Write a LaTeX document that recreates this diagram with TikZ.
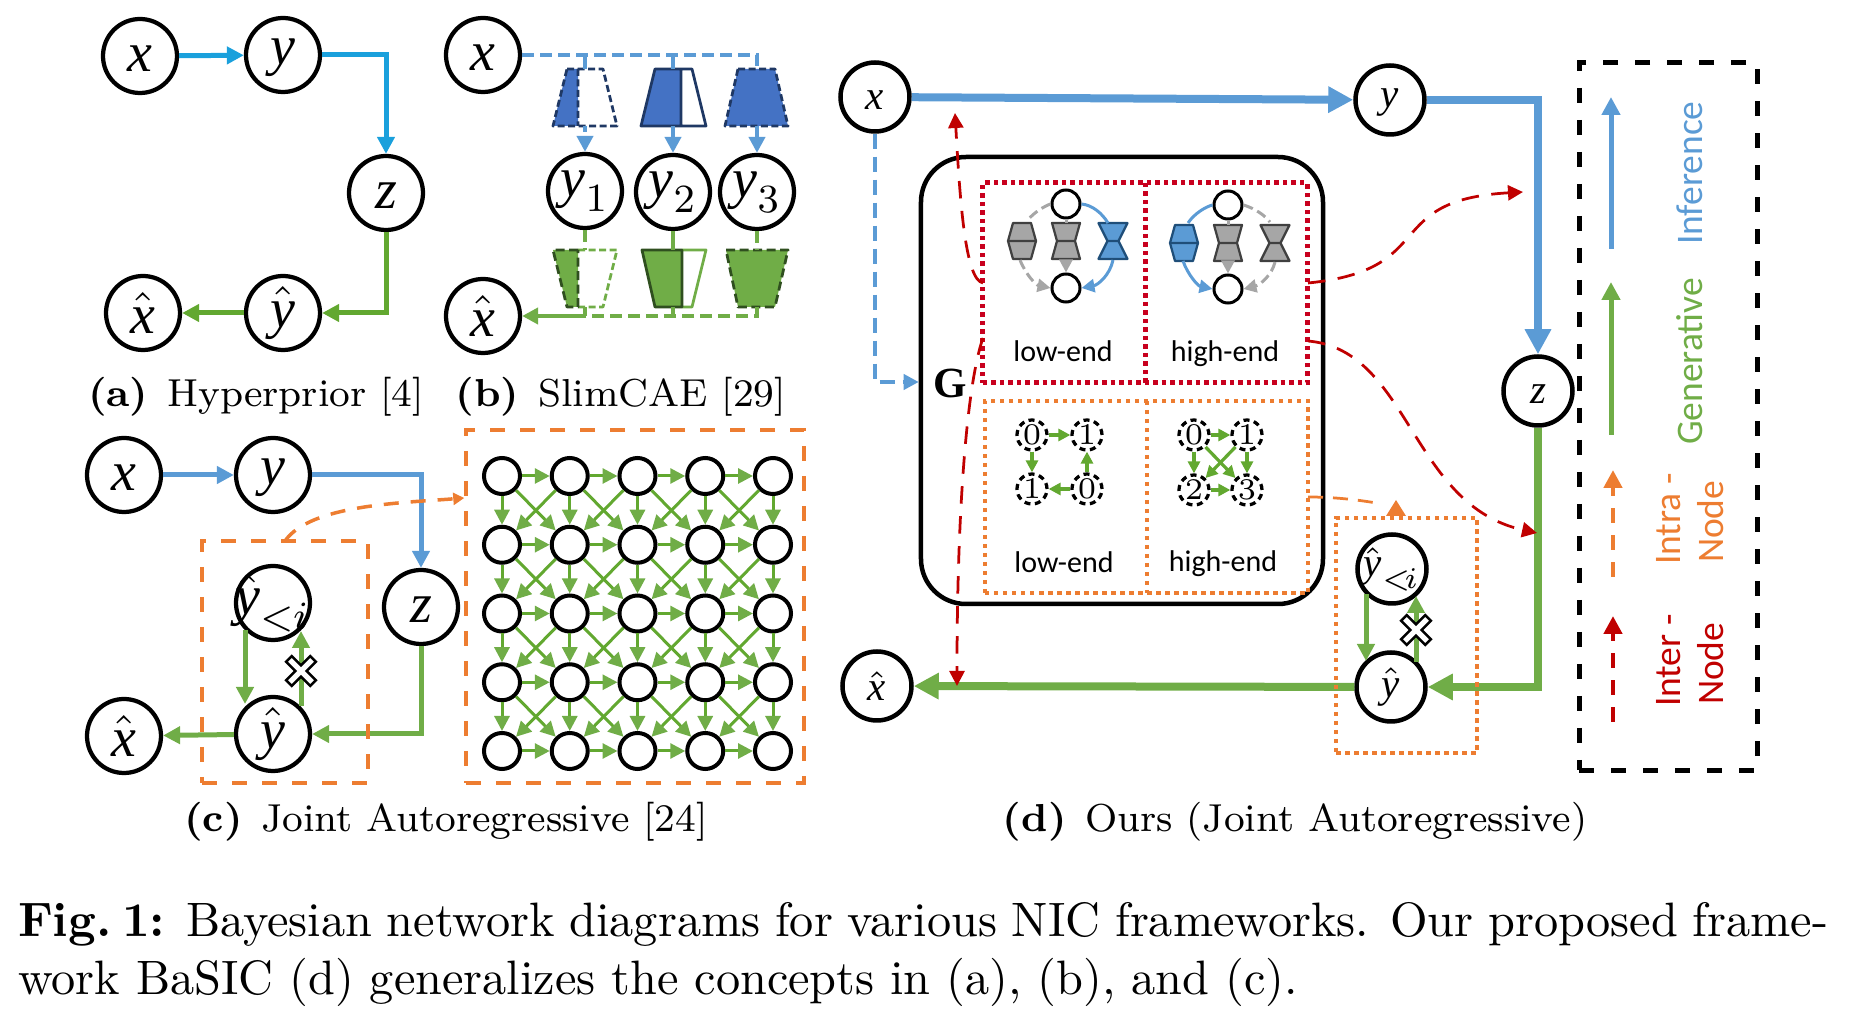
\documentclass[tikz,border=0pt]{standalone}
\usepackage{fontspec}
\usetikzlibrary{arrows.meta,calc}
\newfontfamily\carl{Carlito}
\newfontfamily\lsi{Liberation Serif}
\definecolor{cblue}{HTML}{5B9BD5}
\definecolor{cskye}{HTML}{1AA0DC}
\definecolor{cgreen}{HTML}{70AD47}
\definecolor{cgr}{HTML}{62A830}
\definecolor{corange}{HTML}{ED7D31}
\definecolor{cred}{HTML}{C00000}
\definecolor{cdred}{HTML}{C8001E}
\definecolor{tblue}{HTML}{4472C4}
\definecolor{tbdark}{HTML}{1F3864}
\definecolor{tgdark}{HTML}{2F4F1F}
\definecolor{sgray}{HTML}{A6A6A6}
\definecolor{sdark}{HTML}{404040}
\definecolor{sbd}{HTML}{1F4E79}
\newcommand{\zb}[1]{\makebox[0pt]{\raisebox{-.6pt}[\height][\depth]{$#1$}}}
\newcommand{\zn}[1]{\makebox[0pt]{$#1$}}
\newcommand{\vv}[1]{\mbox{\lsi\itshape #1}}
\newcommand{\xcross}[2]{\draw[line width=.5pt,fill=white,shift={(#1,#2)},rotate=45] (-4,-4)--(-4,-17)--(4,-17)--(4,-4)--(17,-4)--(17,4)--(4,4)--(4,17)--(-4,17)--(-4,4)--(-17,4)--(-17,-4)--cycle;}
\newcommand{\dbl}[6]{\draw[fill=#5,draw=#6,line width=.45pt,line join=round] ({#1-#3},#2)--({#1+#3},#2)--({#1+#4},{#2+18})--({#1+#3},{#2+36})--({#1-#3},{#2+36})--({#1-#4},{#2+18})--cycle ({#1-#4},{#2+18})--({#1+#4},{#2+18});}
\tikzset{
  x=.2pt,y=-.2pt,
  nd/.style={circle,draw=black,line width=.85pt,inner sep=0pt,minimum size=14.8pt,font=\fontsize{11.2}{13}\selectfont},
  ne/.style={nd,minimum size=13.8pt,line width=.9pt,font=\fontsize{8.2}{10}\selectfont},
  ng/.style={circle,draw=black,line width=.8pt,inner sep=0pt,minimum size=7.2pt},
  ns/.style={circle,draw=black,line width=.6pt,inner sep=0pt,minimum size=5.6pt},
  nq/.style={circle,draw=black,line width=.65pt,dash pattern=on 1.2pt off .9pt,inner sep=0pt,minimum size=6pt,font=\fontsize{6}{7}\selectfont},
  tri/.style={-{Triangle[length=#1*.2pt,width=#1*.2pt]}},
  aa/.style={cskye,line width=1pt,tri=17},
  ag/.style={cgr,line width=1pt,tri=17},
  bb/.style={cblue,line width=1pt,tri=17},
  bn/.style={cblue,line width=.8pt,tri=16},
  gg/.style={cgreen,line width=1pt,tri=17},
  db/.style={cblue,line width=.75pt,dash pattern=on 2.4pt off 1.2pt},
  dg/.style={cgreen,line width=.75pt,dash pattern=on 2.4pt off 1.2pt},
  bigb/.style={cblue,line width=1.6pt,tri=25},
  bigg/.style={cgreen,line width=1.6pt,tri=25},
  gridarr/.style={cgr,line width=.6pt,-{Triangle[length=3pt,width=3pt,color=cgreen]}},
  smg/.style={cgr,line width=.65pt,-{Triangle[length=2.4pt,width=2.4pt]}},
  thn/.style={line width=.6pt},
  gdash/.style={sgray,thn,dash pattern=on 2pt off 1pt},
  head/.style={-{Triangle[length=2.6pt,width=2.6pt]}},
  box/.style={draw,inner sep=0pt},
  orbox/.style={box,corange,line width=.7pt,dash pattern=on 3pt off 3pt},
  redbox/.style={box,cdred,line width=1pt,dash pattern=on .9pt off .8pt},
  ordot/.style={box,corange,line width=.85pt,dash pattern=on .9pt off .9pt},
  redarr/.style={cred,line width=.55pt,dash pattern=on 3.5pt off 2.5pt,-{Triangle[length=3pt,width=3pt]}},
  capa/.style={anchor=base,inner sep=0pt,font=\fontsize{7.8}{10}\selectfont},
  capm/.style={anchor=base west,inner sep=0pt,font=\fontsize{9.66}{12}\selectfont},
  lowtxt/.style={anchor=base,inner sep=0pt,font=\carl\fontsize{6}{7}\selectfont},
  leg/.style={anchor=base west,rotate=90,inner sep=0pt,font=\carl\fontsize{7.5}{9}\selectfont},
  trd/.style={line width=.55pt,line join=round},
}
\begin{document}
\begin{tikzpicture}
\useasboundingbox (0,0) rectangle (1858,1012);

% ---------- (a)
\node[nd] (ax) at (140,56) {\zb{\vv{x}}};
\node[nd] (ay) at (283,55) {\zb{\vv{y}}};
\node[nd] (az) at (386,193) {\zb{\vv{z}}};
\node[nd] (axh) at (143,313) {\zn{\hat{\vv{x}}}};
\node[nd] (ayh) at (283,313) {\zn{\hat{\vv{y}}}};
\draw[aa] (ax) -- (ay);
\draw[aa] (ay) -| (az);
\draw[ag] (az) |- (ayh);
\draw[ag] (ayh) -- (axh);
\node[capa] (capA) at (256,407) {\textbf{(a)}\hspace{.48em}Hyperprior [4]};

% ---------- (b)
\node[nd] (bx) at (483,55) {\zb{\vv{x}}};
\node[nd] (by1) at (585,191) {\zn{\vv{y}_1}};
\node[nd] (by2) at (673,192) {\zn{\vv{y}_2}};
\node[nd] (by3) at (757,192) {\zn{\vv{y}_3}};
\node[nd] (bxh) at (483,316) {\zn{\hat{\vv{x}}}};
% blue trapezoids
\fill[tblue] (567,69)--(578,69)--(578,126)--(553,126)--cycle;
\draw[tbdark,trd,dash pattern=on 1.4pt off .7pt] (567,69)--(603,69)--(617,126)--(553,126)--cycle (578,69)--(578,126);
\fill[tblue] (655,69)--(681,69)--(681,126)--(641,126)--cycle;
\draw[tbdark,trd] (655,69)--(692,69)--(706,126)--(641,126)--cycle (681,69)--(681,126);
\draw[tbdark,trd,fill=tblue,dash pattern=on 1.4pt off .7pt] (738,69)--(775,69)--(788,126)--(725,126)--cycle;
% green trapezoids
\fill[cgreen] (553,250)--(578,250)--(578,307)--(567,307)--cycle;
\draw[cgreen,trd,dash pattern=on 1.4pt off .7pt] (578,250)--(617,250)--(603,307)--(578,307);
\draw[tgdark,trd,dash pattern=on 1.8pt off .9pt] (578,250)--(553,250)--(567,307)--(578,307)--cycle;
\fill[cgreen] (642,250)--(682,250)--(682,307)--(655,307)--cycle;
\draw[cgreen,trd] (682,250)--(706,250)--(692,307)--(682,307);
\draw[tgdark,trd] (682,250)--(642,250)--(655,307)--(682,307)--cycle;
\draw[tgdark,trd,fill=cgreen,dash pattern=on 1.8pt off .9pt] (726,250)--(788,250)--(775,307)--(738,307)--cycle;
% blue connectors
\coordinate (bt1) at (585,69); \coordinate (bt2) at (673,69); \coordinate (bt3) at (757,69);
\coordinate (bb1) at (585,126); \coordinate (bb2) at (673,126); \coordinate (bb3) at (757,126);
\coordinate (bj1) at (585,55); \coordinate (bj2) at (673,55); \coordinate (bj3) at (757,55);
\draw[db] (bx.east) -- (bj3) -- (bt3);
\draw[cblue,line width=.75pt] (bj1) -- (bt1) (bj2) -- (bt2);
\draw[bn,dash pattern=on 1.2pt off .8pt] (bb1) -- (by1);
\draw[bn] (bb2) -- (by2);
\draw[bn] (bb3) -- (by3);
% green connectors
\coordinate (gt1) at (585,250); \coordinate (gt2) at (673,250); \coordinate (gt3) at (757,250);
\coordinate (gb1) at (585,307); \coordinate (gb2) at (673,307); \coordinate (gb3) at (757,307);
\coordinate (gj1) at (585,316); \coordinate (gj2) at (673,316); \coordinate (gj3) at (757,316);
\draw[dg] (by1) -- (gt1);
\draw[cgreen,line width=.75pt] (by2) -- (gt2) (gb1) -- (gj1) (gb2) -- (gj2);
\draw[dg] (by3) -- (gt3);
\draw[dg] (gb3) -- (gj3) -- (gj1);
\draw[cgreen,line width=.8pt,tri=16] (gj1) -- (bxh);
\node[capa] (capB) at (621,407) {\textbf{(b)}\hspace{.48em}SlimCAE [29]};

% ---------- (c)
\node[nd] (cx) at (124,475) {\zb{\vv{x}}};
\node[nd] (cy) at (273,475) {\zb{\vv{y}}};
\node[nd] (cz) at (421,607) {\zb{\vv{z}}};
\node[nd] (cxh) at (124,736) {\zn{\hat{\vv{x}}}};
\node[nd] (cyh) at (273,734) {\zn{\hat{\vv{y}}}};
\node[nd] (cyi) at (273,603) {\zn{\hat{\vv{y}}_{<i}}};
\draw[bb] (cx) -- (cy);
\draw[bb] (cy) -| (cz);
\draw[gg] (cz) |- (cyh);
\draw[gg] (cyh) -- (cxh);
\draw[gg] ($(cyi.center)+(-28,27)$) -- ($(cyh.center)+(-28,-30)$);
\draw[gg] ($(cyh.center)+(28,-28)$) -- ($(cyi.center)+(28,28)$);
\xcross{301}{671}
\node[box,orbox,minimum width=33.2pt,minimum height=48.4pt] (cbox1) at (285,662) {};
\node[box,orbox,minimum width=67.6pt,minimum height=70.6pt] (cbox2) at (635,606.5) {};
\coordinate (co1) at (285,541);
\draw[corange,line width=.7pt,dash pattern=on 3pt off 2.4pt,-{Triangle[length=2.2pt,width=2.4pt]}] (co1) .. controls (310,505) and (400,503) .. (cbox2.west |- 0,498);
\foreach \i in {0,...,4} \foreach \j in {0,...,4}
  \node[ng] (g-\i-\j) at ({502+67.75*\i},{476+68.75*\j}) {};
\foreach \j in {0,...,4} \foreach \i/\n in {0/1,1/2,2/3,3/4}
  \draw[gridarr] (g-\i-\j) -- (g-\n-\j);
\foreach \i in {0,...,4} \foreach \j/\n in {0/1,1/2,2/3,3/4}
  \draw[gridarr] (g-\i-\j) -- (g-\i-\n);
\foreach \i/\ni in {0/1,1/2,2/3,3/4} \foreach \j/\n in {0/1,1/2,2/3,3/4} {
  \draw[gridarr] (g-\i-\j) -- (g-\ni-\n);
  \draw[gridarr] (g-\ni-\j) -- (g-\i-\n);
}
\node[capa] (capC) at (446,832) {\textbf{(c)}\hspace{.48em}Joint Autoregressive [24]};

% ---------- (d)
\node[ne] (dx) at (875,97) {\zb{\vv{x}}};
\node[ne] (dy) at (1390,100) {\zb{\vv{y}}};
\node[ne] (dz) at (1538,391) {\zb{\vv{z}}};
\node[ne] (dxh) at (877,686) {\zn{\hat{\vv{x}}}};
\node[ne] (dyh) at (1391,687) {\zn{\hat{\vv{y}}}};
\node[ne] (dyi) at (1392,569) {\zn{\hat{\vv{y}}_{<\!i}}};
\draw[bigb] (dx) -- (dy);
\draw[bigb] (dy) -| (dz);
\draw[bigg] (dz) |- (dyh);
\draw[bigg] (dyh) -- (dxh);
\node[box,draw=black,line width=.9pt,rounded corners=9pt,minimum width=80.4pt,minimum height=89.4pt] (G) at (1122,380.5) {};
\coordinate (dgb) at (875,382);
\draw[cblue,line width=.75pt,dash pattern=on 3pt off 1.6pt,tri=15] (dx) |- (G.west |- dgb);
\node[inner sep=0pt,font=\lsi\bfseries\fontsize{8.6}{10}\selectfont] (Gl) at (950,383) {G};
\node[redbox,minimum width=64.8pt,minimum height=40pt] (rb) at (1145,283) {};
\coordinate (rd1) at (1145,183); \coordinate (rd2) at (1145,383);
\draw[redbox] (rd1) -- (rd2);
\node[ordot,minimum width=64.6pt,minimum height=38.4pt] (ob) at (1146.5,497) {};
\coordinate (od1) at (1147,401); \coordinate (od2) at (1147,593);
\draw[ordot] (od1) -- (od2);
% red panel left
\node[ns] (r1t) at (1066,204) {};
\node[ns] (r1b) at (1066,288) {};
\dbl{1022}{223}{9}{14}{sgray}{sdark}
\dbl{1066}{223}{14}{9}{sgray}{sdark}
\dbl{1113}{223}{14.5}{5.5}{cblue}{sbd}
\coordinate (r1h) at (1027,221); \coordinate (r1hb) at (1020,260);
\coordinate (r1bt) at (1108,223); \coordinate (r1bb) at (1113,260);
\coordinate (r1m) at (1066,223); \coordinate (r1mb) at (1066,260);
\draw[gdash] (r1t.west) .. controls (1045,206) and (1034,212) .. (r1h);
\draw[gdash,head] (r1hb) .. controls (1026,275) and (1036,285) .. (r1b.west);
\draw[sgray,thn] (r1t) -- (r1m);
\draw[sgray,thn,head] (r1mb) -- (r1b);
\draw[cblue,thn] (r1t.east) .. controls (1092,205) and (1102,213) .. (r1bt);
\draw[cblue,thn,head] (r1bb) .. controls (1110,275) and (1098,285) .. (r1b.east);
% red panel right
\node[ns] (r2t) at (1228,205) {};
\node[ns] (r2b) at (1228,289) {};
\dbl{1184}{225}{9}{14}{cblue}{sbd}
\dbl{1228}{225}{14}{9}{sgray}{sdark}
\dbl{1275}{225}{14.5}{5.5}{sgray}{sdark}
\coordinate (r2h) at (1188,223); \coordinate (r2hb) at (1183,261);
\coordinate (r2g) at (1270,222); \coordinate (r2gb) at (1275,262);
\coordinate (r2m) at (1228,225); \coordinate (r2mb) at (1228,261);
\draw[cblue,thn] (r2t.west) .. controls (1205,207) and (1194,214) .. (r2h);
\draw[cblue,thn,head] (r2hb) .. controls (1188,275) and (1198,286) .. (r2b.west);
\draw[sgray,thn] (r2t) -- (r2m);
\draw[sgray,thn,head] (r2mb) -- (r2b);
\draw[gdash] (r2t.east) .. controls (1250,207) and (1262,212) .. (r2g);
\draw[gdash,head] (r2gb) .. controls (1272,275) and (1260,285) .. (r2b.east);
\node[lowtxt] (t1) at (1063,362) {low-end};
\node[lowtxt] (t2) at (1225,362) {high-end};
% orange panel left
\node[nq] (q0) at (1032,435) {0};
\node[nq] (q1) at (1087,435) {1};
\node[nq] (q2) at (1032,489) {1};
\node[nq] (q3) at (1087,489) {0};
\draw[smg] (q0) -- (q1);
\draw[smg] (q0) -- (q2);
\draw[smg] (q3) -- (q1);
\draw[smg] (q3) -- (q2);
% orange panel right
\node[nq] (p0) at (1194,435) {0};
\node[nq] (p1) at (1247,435) {1};
\node[nq] (p2) at (1194,490) {2};
\node[nq] (p3) at (1247,490) {3};
\draw[smg] (p0) -- (p1);
\draw[smg] (p0) -- (p2);
\draw[smg] (p1) -- (p3);
\draw[smg] (p2) -- (p3);
\draw[smg] (p0) -- (p3);
\draw[smg] (p1) -- (p2);
\node[lowtxt] (t3) at (1064,573) {low-end};
\node[lowtxt] (t4) at (1223,572) {high-end};
% dotted box with conditional nodes
\node[ordot,minimum width=28.2pt,minimum height=47pt] (db) at (1406.5,635.5) {};
\draw[gg] ($(dyi.center)+(-26,25)$) -- ($(dyh.center)+(-25,-26)$);
\draw[gg] ($(dyh.center)+(25,-25)$) -- ($(dyi.center)+(24,27)$);
\xcross{1416}{630}
% red curves
\coordinate (rc1s) at (983,283); \coordinate (rc1e) at (955,113);
\coordinate (rc2s) at (983,338); \coordinate (rc2e) at (957,686);
\coordinate (rc3s) at (1308,283); \coordinate (rc3e) at (1523,192);
\coordinate (rc4s) at (1308,341); \coordinate (rc4e) at (1537,533);
\coordinate (oc1s) at (1308,497); \coordinate (oc1e) at (1382,504);
\draw[redarr] (rc1s) .. controls (965,280) and (960,200) .. (rc1e);
\draw[redarr] (rc2s) .. controls (968,380) and (957,500) .. (rc2e);
\draw[redarr] (rc3s) .. controls (1440,270) and (1380,200) .. (rc3e);
\draw[redarr] (rc4s) .. controls (1410,350) and (1410,505) .. (rc4e);
\draw[corange,line width=.55pt,dash pattern=on 3pt off 2pt] (oc1s) .. controls (1335,497) and (1360,500) .. (oc1e);
\fill[corange] (1396,500) -- (1406,516) -- (1386,516) -- cycle;
% legend
\node[box,draw=black,line width=1pt,dash pattern=on 3pt off 3.4pt,minimum width=35.6pt,minimum height=141.4pt] (legbox) at (1668,416.5) {};
\coordinate (l1a) at (1611,249); \coordinate (l1b) at (1611,97);
\coordinate (l2a) at (1611,435); \coordinate (l2b) at (1611,282);
\coordinate (l3a) at (1613,577); \coordinate (l3b) at (1613,470);
\coordinate (l4a) at (1613,722); \coordinate (l4b) at (1613,616);
\draw[cblue,line width=1pt,tri=18] (l1a) -- (l1b);
\draw[cgreen,line width=1pt,tri=18] (l2a) -- (l2b);
\draw[corange,line width=.9pt,dash pattern=on 3pt off 2.4pt,tri=18] (l3a) -- (l3b);
\draw[cred,line width=.9pt,dash pattern=on 3pt off 2.4pt,tri=18] (l4a) -- (l4b);
\node[leg,text=cblue] (li) at (1702,246) {Inference};
\node[leg,text=cgreen] (lg) at (1702,446) {Generative};
\node[leg,text=corange] (la1) at (1680,566) {Intra -};
\node[leg,text=corange] (la2) at (1723,564) {Node};
\node[leg,text=cred] (lr1) at (1680,708) {Inter -};
\node[leg,text=cred] (lr2) at (1723,706) {Node};
\node[capa] (capD) at (1295,832) {\textbf{(d)}\hspace{.48em}Ours (Joint Autoregressive)};
% main caption
\node[capm] (m1) at (17,937) {\makebox[362.1pt][s]{\textbf{Fig.\kern.22em 1:} Bayesian network diagrams for various NIC frameworks. Our proposed frame-}};
\node[capm] (m2) at (17,995) {\makebox[256pt][s]{work BaSIC (d) generalizes the concepts in (a), (b), and (c).}};
\end{tikzpicture}
\end{document}
